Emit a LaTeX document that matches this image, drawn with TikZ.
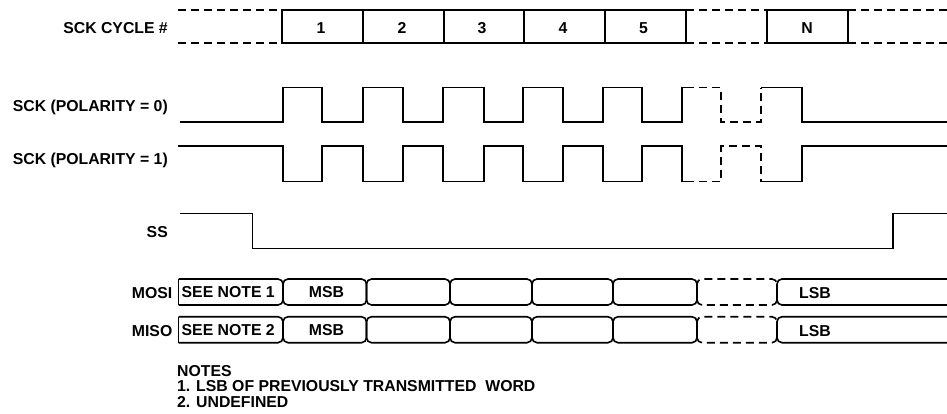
\documentclass[tikz,border=0pt]{standalone}
\usepackage{fontspec}
\setmainfont{Liberation Sans}
\begin{document}
\begin{tikzpicture}[x=1pt,y=-1pt,
  sig/.style={line width=1.6pt,line join=miter},
  dsh/.style={sig,dash pattern=on 8pt off 5pt},
  bus/.style={sig,rounded corners=5pt},
  dbus/.style={dsh,rounded corners=5pt},
  lbl/.style={font=\fontsize{15.8}{15.8}\selectfont\bfseries,inner sep=0pt}]
\useasboundingbox (0,0) rectangle (947,413);

% ---- labels ----
\node[lbl,anchor=base east] (lcyc) at (168,33) {SCK CYCLE \#};
\node[lbl,anchor=base east] (lp0) at (168,111) {SCK (POLARITY = 0)};
\node[lbl,anchor=base east] (lp1) at (168,164) {SCK (POLARITY = 1)};
\node[lbl,anchor=base east] (lss) at (168,237) {SS};
\node[lbl,anchor=base east] (lmosi) at (172.5,298.5) {MOSI};
\node[lbl,anchor=base east] (lmiso) at (172.5,336.7) {MISO};

% ---- cycle row ----
\draw[dsh] (178,10) -- (282,10);
\draw[dsh] (178,43) -- (282,43);
\draw[sig] (282,10) rectangle (686,43);
\foreach \x in {363,444,524,605} \draw[sig] (\x,10) -- (\x,43);
\draw[dsh] (686,10) -- (767,10);
\draw[dsh] (686,43) -- (767,43);
\draw[sig] (767,10) rectangle (848,43);
\draw[dsh] (848,10) -- (947,10);
\draw[dsh] (848,43) -- (947,43);
\node[lbl,anchor=base] (c1) at (321,33.3) {1};
\node[lbl,anchor=base] (c2) at (402,33.3) {2};
\node[lbl,anchor=base] (c3) at (482,33.3) {3};
\node[lbl,anchor=base] (c4) at (563,33.3) {4};
\node[lbl,anchor=base] (c5) at (643.5,33.3) {5};
\node[lbl,anchor=base] (cN) at (807,33.3) {N};

% ---- SCK polarity 0 ----
\def\Ta{87.5}\def\La{121.7}
\draw[sig] (180,\La) -- (283,\La) -- (283,\Ta) -- (322,\Ta) -- (322,\La)
  -- (363,\La) -- (363,\Ta) -- (403,\Ta) -- (403,\La)
  -- (443,\La) -- (443,\Ta) -- (484,\Ta) -- (484,\La)
  -- (523,\La) -- (523,\Ta) -- (563,\Ta) -- (563,\La)
  -- (603,\La) -- (603,\Ta) -- (642,\Ta) -- (642,\La)
  -- (682,\La) -- (682,\Ta) -- (686,\Ta);
\draw[dsh] (686,\Ta) -- (721,\Ta) -- (721,\La) -- (761,\La) -- (761,\Ta);
\draw[sig] (761,\Ta) -- (802,\Ta) -- (802,\La) -- (947,\La);

% ---- SCK polarity 1 ----
\def\Tb{146}\def\Lb{181.5}
\draw[sig] (178,\Tb) -- (283,\Tb) -- (283,\Lb) -- (322,\Lb) -- (322,\Tb)
  -- (363,\Tb) -- (363,\Lb) -- (403,\Lb) -- (403,\Tb)
  -- (443,\Tb) -- (443,\Lb) -- (484,\Lb) -- (484,\Tb)
  -- (523,\Tb) -- (523,\Lb) -- (563,\Lb) -- (563,\Tb)
  -- (603,\Tb) -- (603,\Lb) -- (642,\Lb) -- (642,\Tb)
  -- (682,\Tb) -- (682,\Lb) -- (686,\Lb);
\draw[dsh] (686,\Lb) -- (721,\Lb) -- (721,\Tb) -- (761,\Tb) -- (761,\Lb);
\draw[sig] (761,\Lb) -- (802,\Lb) -- (802,\Tb) -- (947,\Tb);

% ---- SS ----
\draw[sig] (180,213.3) -- (252.3,213.3) -- (252.3,248.3) -- (893,248.3) -- (893,213.3) -- (947,213.3);

% ---- MOSI / MISO buses ----
\foreach \t/\b in {279/305, 316.7/342.7}{
  \draw[sig] (178.5,\t) -- (178.5,\b);
  \draw[bus] (178.5,\t) -- (283,\t) -- (283,\b) -- (178.5,\b);
  \foreach \xa/\xb in {283/366.5, 366.5/450, 450/532, 532/613, 613/697}{
    \draw[bus] (\xa,{(\t+\b)/2}) -- (\xa,\t) -- (\xb,\t) -- (\xb,\b) -- (\xa,\b) -- cycle;
  }
  \draw[dbus] (697,{(\t+\b)/2}) -- (697,\t) -- (777,\t) -- (777,\b) -- (697,\b) -- cycle;
  \draw[bus] (948,\t) -- (777,\t) -- (777,\b) -- (948,\b);
}
\node[lbl,anchor=base west] (n1) at (181.5,297) {SEE NOTE 1};
\node[lbl,anchor=base] (m1) at (326.5,297) {MSB};
\node[lbl,anchor=base west] (s1) at (799,298) {LSB};
\node[lbl,anchor=base west] (n2) at (181.5,335.5) {SEE NOTE 2};
\node[lbl,anchor=base] (m2) at (326.5,335.5) {MSB};
\node[lbl,anchor=base west] (s2) at (799,336.5) {LSB};

% ---- notes ----
\node[lbl,anchor=base west] (nt0) at (177,376) {NOTES};
\node[lbl,anchor=base west] (nt1) at (177,391.7) {1. LSB OF PREVIOUSLY TRANSMITTED\ \ WORD};
\node[lbl,anchor=base west] (nt2) at (177,407.3) {2. UNDEFINED};
\end{tikzpicture}
\end{document}
